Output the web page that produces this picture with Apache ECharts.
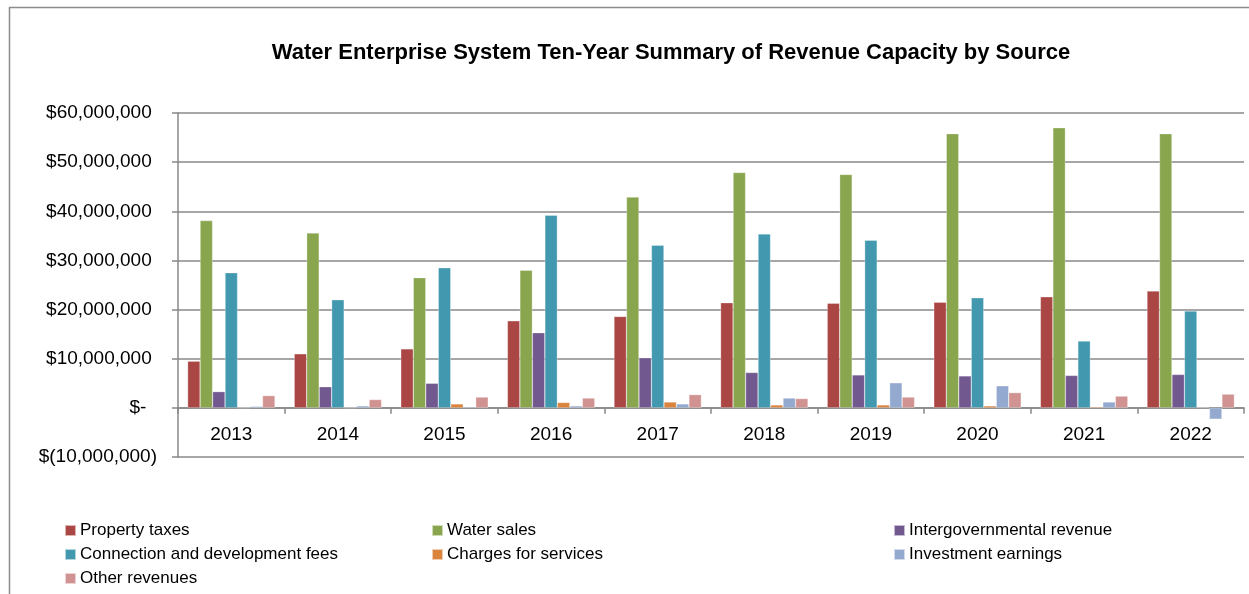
<!DOCTYPE html>
<html><head><meta charset="utf-8">
<script src="https://cdn.jsdelivr.net/npm/echarts@6/dist/echarts.min.js"></script>
<style>html,body{margin:0;padding:0;background:#fff}#c{width:1249px;height:594px}</style>
</head><body><div id="c"></div>
<script>
const years = ['2013','2014','2015','2016','2017','2018','2019','2020','2021','2022'];
const seriesNames = ['Property taxes','Water sales','Intergovernmental revenue','Connection and development fees','Charges for services','Investment earnings','Other revenues'];
const propertyTaxes = [9.5e6, 11.0e6, 12.0e6, 17.7e6, 18.6e6, 21.4e6, 21.3e6, 21.5e6, 22.6e6, 23.8e6];
const waterSales = [38.1e6, 35.6e6, 26.5e6, 28.0e6, 42.9e6, 47.9e6, 47.5e6, 55.8e6, 57.0e6, 55.8e6];
const intergovernmental = [3.3e6, 4.3e6, 5.0e6, 15.3e6, 10.2e6, 7.2e6, 6.7e6, 6.5e6, 6.6e6, 6.8e6];
const connectionFees = [27.5e6, 22.0e6, 28.5e6, 39.2e6, 33.1e6, 35.4e6, 34.1e6, 22.4e6, 13.6e6, 19.7e6];
const chargesForServices = [0.05e6, 0.05e6, 0.8e6, 1.1e6, 1.2e6, 0.6e6, 0.6e6, 0.4e6, 0.2e6, 0.1e6];
const investmentEarnings = [0.3e6, 0.4e6, 0.2e6, 0.4e6, 0.8e6, 2.0e6, 5.1e6, 4.5e6, 1.2e6, -2.3e6];
const otherRevenues = [2.5e6, 1.7e6, 2.2e6, 2.0e6, 2.7e6, 1.9e6, 2.2e6, 3.1e6, 2.4e6, 2.8e6];
const yTicks = {min: -10e6, max: 60e6, interval: 10e6};

const values = [propertyTaxes, waterSales, intergovernmental, connectionFees, chargesForServices, investmentEarnings, otherRevenues];
const colors = ['#AA4643','#89A54E','#71588F','#4198AF','#DB843D','#93A9CF','#D19392'];
const FONT = 'Liberation Sans';

function fmt(v){
  if (v === 0) return '$-  ';
  const s = Math.abs(v).toLocaleString('en-US');
  return v < 0 ? '$(' + s + ')' : '$' + s + ' ';
}

const legendPos = [[64,522],[431,522],[893,522],[64,546],[431,546],[893,546],[64,570]];
const legends = seriesNames.map((n,i)=>({
  data:[n], left: legendPos[i][0], top: legendPos[i][1], padding:0,
  itemWidth:11, itemHeight:11, icon:'rect', selectedMode:false,
  textStyle:{fontFamily:FONT, fontSize:17, color:'#000', padding:[0,0,0,-1]}
}));

const gridTop = 113, gridBottom = 137, chartH = 594;
const plotH = chartH - gridTop - gridBottom;
const zeroOffset = plotH * (0 - yTicks.min) / (yTicks.max - yTicks.min);

const chart = echarts.init(document.getElementById('c'));
chart.setOption({
  animation:false,
  color: colors,
  title:{text:'Water Enterprise System Ten-Year Summary of Revenue Capacity by Source',
    left:666, top:37, textAlign:'center',
    textStyle:{fontFamily:FONT, fontSize:22, fontWeight:'bold', color:'#000'}},
  graphic:[{type:'rect', shape:{x:9.5,y:7.5,width:1300,height:700}, style:{fill:null, stroke:'#8c8c8c', lineWidth:1.5}, silent:true}],
  legend: legends,
  grid:{left:178, right:5, top:gridTop, bottom:gridBottom, containLabel:false},
  xAxis:{type:'category', data:years, boundaryGap:true, position:'bottom', offset:-zeroOffset,
    axisLine:{onZero:false, lineStyle:{color:'#888', width:1.5}},
    axisTick:{show:true, length:6, inside:false, lineStyle:{color:'#888', width:1.5}},
    axisLabel:{fontFamily:FONT, fontSize:19, color:'#000', margin:17}},
  yAxis:{type:'value', min:yTicks.min, max:yTicks.max, interval:yTicks.interval,
    axisLine:{show:true, lineStyle:{color:'#888', width:1.5}},
    axisTick:{show:true, length:6, lineStyle:{color:'#888', width:1.5}},
    splitLine:{lineStyle:{color:'#888', width:1.5}},
    axisLabel:{fontFamily:FONT, fontSize:19, color:'#000', margin:21, formatter:fmt}},
  series: seriesNames.map((n,i)=>({
    name:n, type:'bar', data:values[i], barGap:'0%', barCategoryGap:'18%',
    itemStyle:{color:colors[i], borderColor:'rgba(255,255,255,0.6)', borderWidth:0.5}
  }))
});
</script></body></html>
